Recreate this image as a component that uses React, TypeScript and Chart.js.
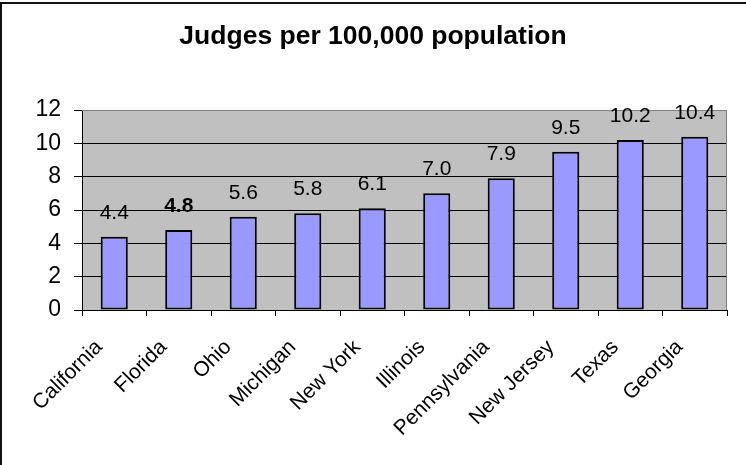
import React, { useEffect, useRef } from "react";
import { Chart, registerables } from "chart.js";

Chart.register(...registerables);

const states = [
  "California",
  "Florida",
  "Ohio",
  "Michigan",
  "New York",
  "Illinois",
  "Pennsylvania",
  "New Jersey",
  "Texas",
  "Georgia",
];
const judgesPer100k = [4.4, 4.8, 5.6, 5.8, 6.1, 7.0, 7.9, 9.5, 10.2, 10.4];
const boldLabelStates = ["Florida"];
const titleText = "Judges per 100,000 population";

const FONT = "'Liberation Sans', Arial, Helvetica, sans-serif";
const W = 746;
const H = 465;

// Frame, title, grey plot background and the value labels above the bars.
const decorations = {
  id: "decorations",
  beforeDraw(chart: any) {
    const { ctx, chartArea } = chart;
    ctx.save();
    ctx.fillStyle = "#ffffff";
    ctx.fillRect(0, 0, W, H);
    ctx.fillStyle = "#c0c0c0";
    ctx.fillRect(
      chartArea.left,
      chartArea.top,
      chartArea.right - chartArea.left,
      chartArea.bottom - chartArea.top
    );
    // outer frame (top and left edges)
    ctx.fillStyle = "#111111";
    ctx.fillRect(0, 2, W, 2);
    ctx.fillRect(0, 2, 2, H - 2);
    // title
    ctx.fillStyle = "#000000";
    ctx.font = `bold 26.5px ${FONT}`;
    ctx.textAlign = "center";
    ctx.textBaseline = "alphabetic";
    ctx.fillText(titleText, 373, 44);
    ctx.restore();
  },
  afterDraw(chart: any) {
    const { ctx, chartArea } = chart;
    ctx.save();
    // plot-area border on the right and top
    ctx.strokeStyle = "#808080";
    ctx.lineWidth = 1;
    ctx.beginPath();
    ctx.moveTo(chartArea.left, chartArea.top + 0.5);
    ctx.lineTo(chartArea.right - 0.5, chartArea.top + 0.5);
    ctx.lineTo(chartArea.right - 0.5, chartArea.bottom);
    ctx.stroke();

    const meta = chart.getDatasetMeta(0);
    ctx.fillStyle = "#000000";
    ctx.textAlign = "center";
    ctx.textBaseline = "alphabetic";
    meta.data.forEach((bar: any, i: number) => {
      const bold = boldLabelStates.includes(states[i]);
      ctx.font = `${bold ? "bold " : ""}21px ${FONT}`;
      ctx.fillText(judgesPer100k[i].toFixed(1), bar.x, bar.y - 18);
    });
    ctx.restore();
  },
};

export default function App() {
  const canvasRef = useRef<HTMLCanvasElement | null>(null);

  useEffect(() => {
    const canvas = canvasRef.current;
    if (!canvas) return;
    const chart = new Chart(canvas, {
      type: "bar",
      data: {
        labels: states,
        datasets: [
          {
            data: judgesPer100k,
            backgroundColor: "#9999ff",
            borderColor: "#000000",
            borderWidth: 2,
            borderSkipped: false,
            barPercentage: 0.42,
            categoryPercentage: 1,
          },
        ],
      },
      options: {
        responsive: false,
        animation: false,
        devicePixelRatio: 1,
        layout: { padding: { top: 110, right: 19, left: 0, bottom: 0 } },
        plugins: {
          legend: { display: false },
          title: { display: false },
          tooltip: { enabled: false },
        },
        scales: {
          x: {
            offset: true,
            grid: {
              offset: true,
              drawOnChartArea: false,
              drawTicks: true,
              tickLength: 6,
              tickColor: "#000000",
            },
            border: { color: "#000000", width: 1 },
            ticks: {
              color: "#000000",
              font: { family: FONT, size: 21 },
              maxRotation: 45,
              minRotation: 45,
              autoSkip: false,
              padding: 19,
              labelOffset: -15,
            },
            afterFit(scale: any) {
              scale.height = H - 310;
            },
          },
          y: {
            min: 0,
            max: 12,
            ticks: {
              stepSize: 2,
              color: "#000000",
              font: { family: FONT, size: 23 },
              padding: 13,
            },
            grid: {
              color: (c: any) => (c.tick && c.tick.value === 12 ? "#808080" : "#000000"),
              tickColor: "#000000",
              tickLength: 8,
              lineWidth: 1,
            },
            border: { color: "#000000", width: 1 },
            afterFit(scale: any) {
              scale.width = 82;
            },
          },
        },
      },
      plugins: [decorations],
    });
    return () => chart.destroy();
  }, []);

  return (
    <div style={{ position: "absolute", left: 0, top: 0, width: W, height: H, background: "#fff" }}>
      <canvas ref={canvasRef} width={W} height={H} style={{ display: "block", width: W, height: H }} />
    </div>
  );
}
